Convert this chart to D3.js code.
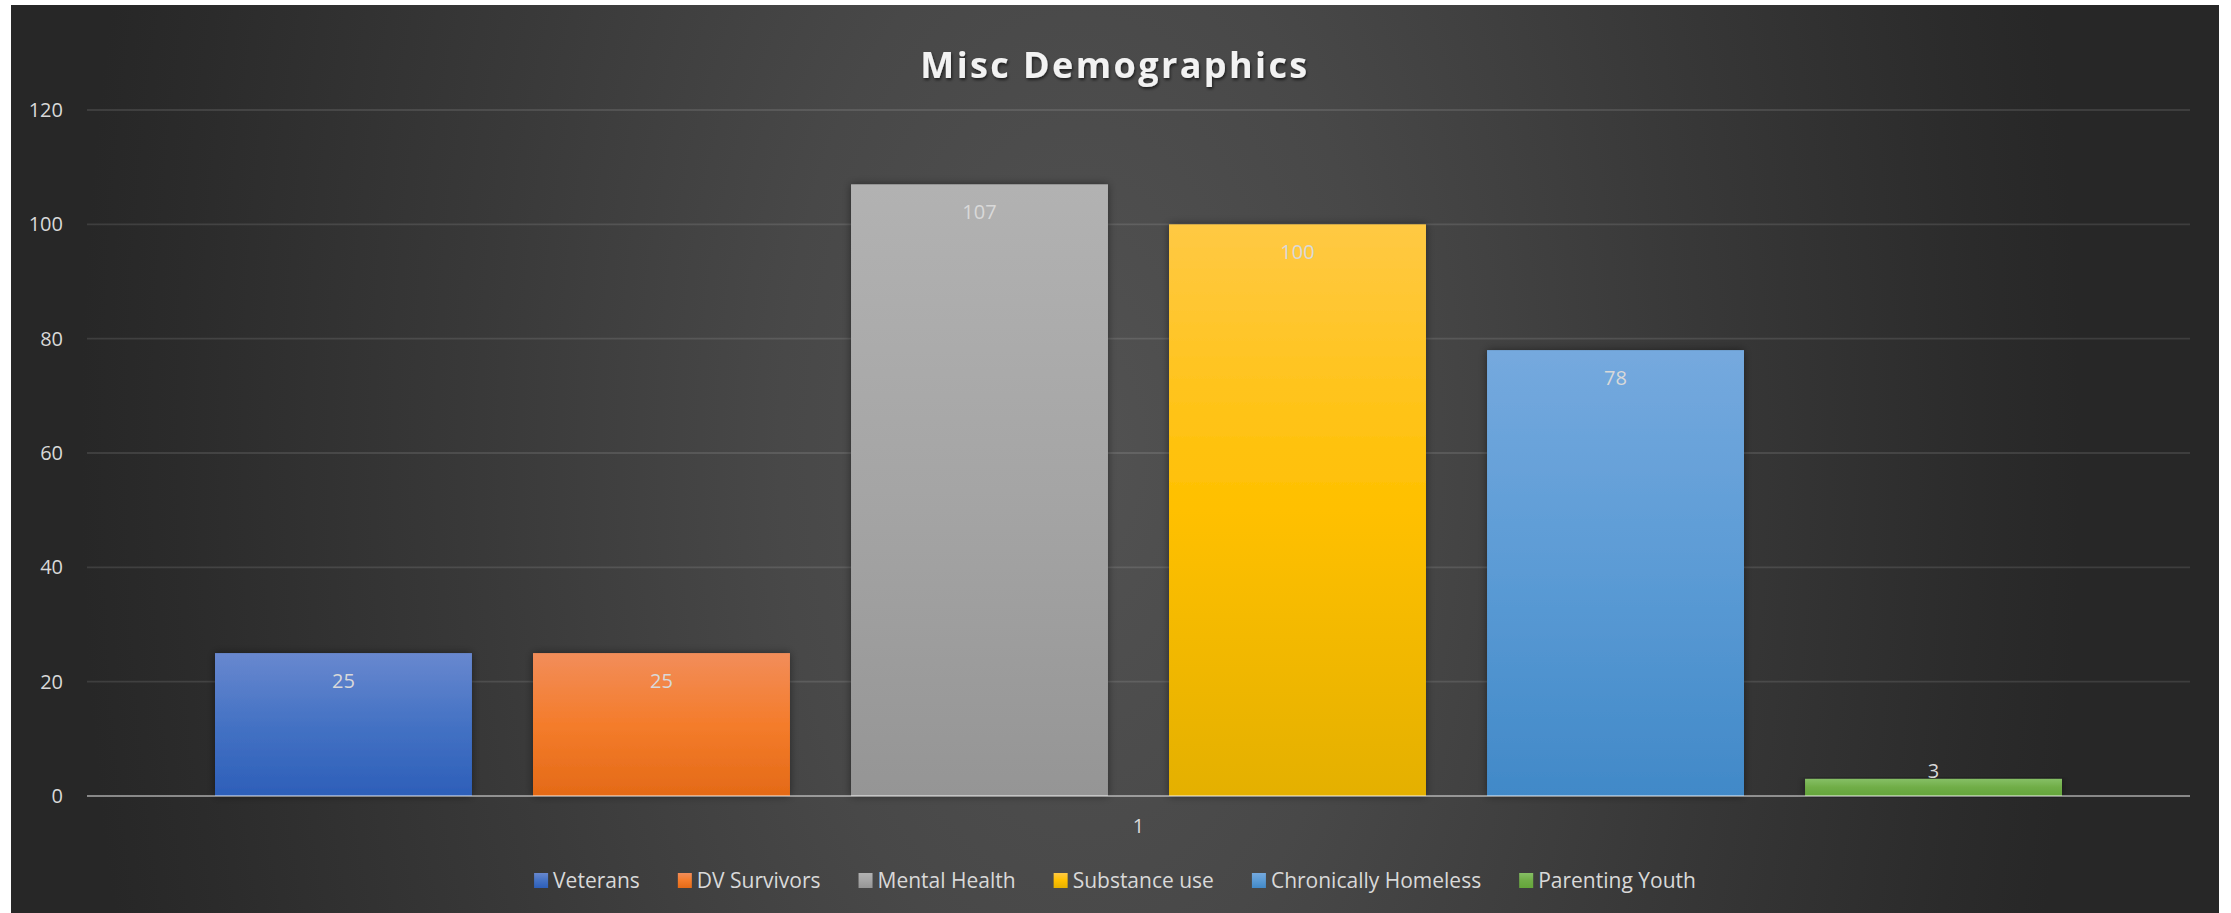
<!DOCTYPE html>
<html>
<head>
<meta charset="utf-8">
<script src="https://cdn.jsdelivr.net/npm/d3@7"></script>
<style>
  html, body { margin: 0; padding: 0; background: #ffffff; }
  svg { display: block; }
  text { font-family: "Open Sans", "Noto Sans", sans-serif; }
</style>
</head>
<body>
<svg id="chart" width="2231" height="913"></svg>
<script>
// Series (one category, six series)
const seriesNames = ["Veterans", "DV Survivors", "Mental Health", "Substance use", "Chronically Homeless", "Parenting Youth"];
const seriesValues = [25, 25, 107, 100, 78, 3];
const categoryLabels = ["1"];
const yTicks = [0, 20, 40, 60, 80, 100, 120];
const titleText = "Misc Demographics";

// Fill ramps per series: top tint, base colour, bottom shade
const seriesColors = [
  ["#6888cf", "#4472c4", "#2d5fb9"],
  ["#f28d5a", "#f47c2b", "#e46a17"],
  ["#b2b2b2", "#a5a5a5", "#959595"],
  ["#ffc944", "#ffc000", "#e4b000"],
  ["#75a9de", "#5b9bd5", "#4189c8"],
  ["#86bf65", "#70ad47", "#64a53a"]
];

const svg = d3.select("#chart");
const defs = svg.append("defs");

// Chart frame
const frame = { x: 11, y: 5, w: 2208, h: 908 };

// Radial background glow
const bg = defs.append("radialGradient")
  .attr("id", "bgGlow")
  .attr("gradientUnits", "userSpaceOnUse")
  .attr("cx", 1080).attr("cy", 450).attr("r", 1000)
  .attr("gradientTransform", "translate(1080,450) scale(1,1.8) translate(-1080,-450)");
[[0, "#525252"], [0.3, "#484848"], [0.6, "#393939"], [0.9, "#2b2b2b"], [1, "#272727"]]
  .forEach(([o, c]) => bg.append("stop").attr("offset", o).attr("stop-color", c));

svg.append("rect")
  .attr("x", frame.x).attr("y", frame.y)
  .attr("width", frame.w).attr("height", frame.h)
  .attr("fill", "url(#bgGlow)");

// Bar gradients
seriesColors.forEach((c, i) => {
  const g = defs.append("linearGradient")
    .attr("id", "barGrad" + i)
    .attr("x1", 0).attr("y1", 0).attr("x2", 0).attr("y2", 1);
  g.append("stop").attr("offset", 0).attr("stop-color", c[0]);
  g.append("stop").attr("offset", 0.5).attr("stop-color", c[1]);
  g.append("stop").attr("offset", 1).attr("stop-color", c[2]);
});

// Soft shadow for bars
const sh = defs.append("filter").attr("id", "barShadow")
  .attr("x", "-10%").attr("y", "-10%").attr("width", "120%").attr("height", "120%");
sh.append("feDropShadow").attr("dx", 0).attr("dy", 0).attr("stdDeviation", 4)
  .attr("flood-color", "#000").attr("flood-opacity", 0.45);

// Title shadow
const tsh = defs.append("filter").attr("id", "titleShadow")
  .attr("x", "-5%").attr("y", "-30%").attr("width", "110%").attr("height", "160%");
tsh.append("feDropShadow").attr("dx", 1).attr("dy", 2).attr("stdDeviation", 1.5)
  .attr("flood-color", "#000").attr("flood-opacity", 0.6);

// Plot area
const plot = { left: 87, right: 2190, top: 110, bottom: 796 };

const y = d3.scaleLinear().domain([0, 120]).range([plot.bottom, plot.top]);
const x = d3.scaleBand()
  .domain(seriesNames)
  .range([plot.left, plot.right])
  .paddingInner(0.192)
  .paddingOuter(0.4025);

// Gridlines
svg.append("g")
  .selectAll("line")
  .data(yTicks.filter(t => t !== 0))
  .join("line")
  .attr("x1", plot.left).attr("x2", plot.right)
  .attr("y1", d => y(d)).attr("y2", d => y(d))
  .attr("stroke", "rgba(255,255,255,0.11)")
  .attr("stroke-width", 1.8);

// Y axis labels
const yAxis = d3.axisLeft(y).tickValues(yTicks).tickSize(0).tickPadding(0);
const yG = svg.append("g")
  .attr("transform", `translate(63,0)`)
  .call(yAxis);
yG.select(".domain").remove();
yG.selectAll("text")
  .attr("fill", "#d9d9d9")
  .attr("font-size", 20)
  .attr("font-family", "'Open Sans', sans-serif");

// Bars
const data = seriesNames.map((name, i) => ({ name, value: seriesValues[i], i }));
svg.append("g")
  .selectAll("rect")
  .data(data)
  .join("rect")
  .attr("x", d => x(d.name))
  .attr("y", d => y(d.value))
  .attr("width", x.bandwidth())
  .attr("height", d => y(0) - y(d.value))
  .attr("fill", d => `url(#barGrad${d.i})`)
  .attr("filter", "url(#barShadow)");

// Category axis line
svg.append("line")
  .attr("x1", plot.left).attr("x2", plot.right)
  .attr("y1", y(0)).attr("y2", y(0))
  .attr("stroke", "rgba(255,255,255,0.45)")
  .attr("stroke-width", 2.2);

// Data labels (inside end; pushed up when the bar is too short)
svg.append("g")
  .selectAll("text")
  .data(data)
  .join("text")
  .attr("x", d => x(d.name) + x.bandwidth() / 2)
  .attr("y", d => Math.min(y(d.value) + 28, y(0) - 25))
  .attr("dy", "0.35em")
  .attr("text-anchor", "middle")
  .attr("font-size", 20)
  .attr("fill", "#d9d9d9")
  .text(d => d.value);

// Category label
svg.append("text")
  .attr("x", (plot.left + plot.right) / 2)
  .attr("y", 826)
  .attr("dy", "0.35em")
  .attr("text-anchor", "middle")
  .attr("font-size", 20)
  .attr("fill", "#d9d9d9")
  .text(categoryLabels[0]);

// Title
svg.append("text")
  .attr("x", frame.x + frame.w / 2)
  .attr("y", 78)
  .attr("text-anchor", "middle")
  .attr("font-size", 36)
  .attr("font-weight", 700)
  .attr("letter-spacing", 2.4)
  .attr("fill", "#f2f2f2")
  .attr("filter", "url(#titleShadow)")
  .text(titleText);

// Legend
const legend = svg.append("g");
let cursor = 0;
const swatch = 14, swGap = 5, itemGap = 38;
seriesNames.forEach((name, i) => {
  const item = legend.append("g").attr("transform", `translate(${cursor},0)`);
  item.append("rect")
    .attr("x", 0).attr("y", 873)
    .attr("width", swatch).attr("height", 15)
    .attr("fill", `url(#barGrad${i})`);
  const t = item.append("text")
    .attr("x", swatch + swGap).attr("y", 888)
    .attr("font-size", 21)
    .attr("fill", "#d9d9d9")
    .text(name);
  cursor += swatch + swGap + t.node().getComputedTextLength() + itemGap;
});
const legendWidth = cursor - itemGap;
legend.attr("transform", `translate(${frame.x + frame.w / 2 - legendWidth / 2},0)`);
</script>
</body>
</html>
